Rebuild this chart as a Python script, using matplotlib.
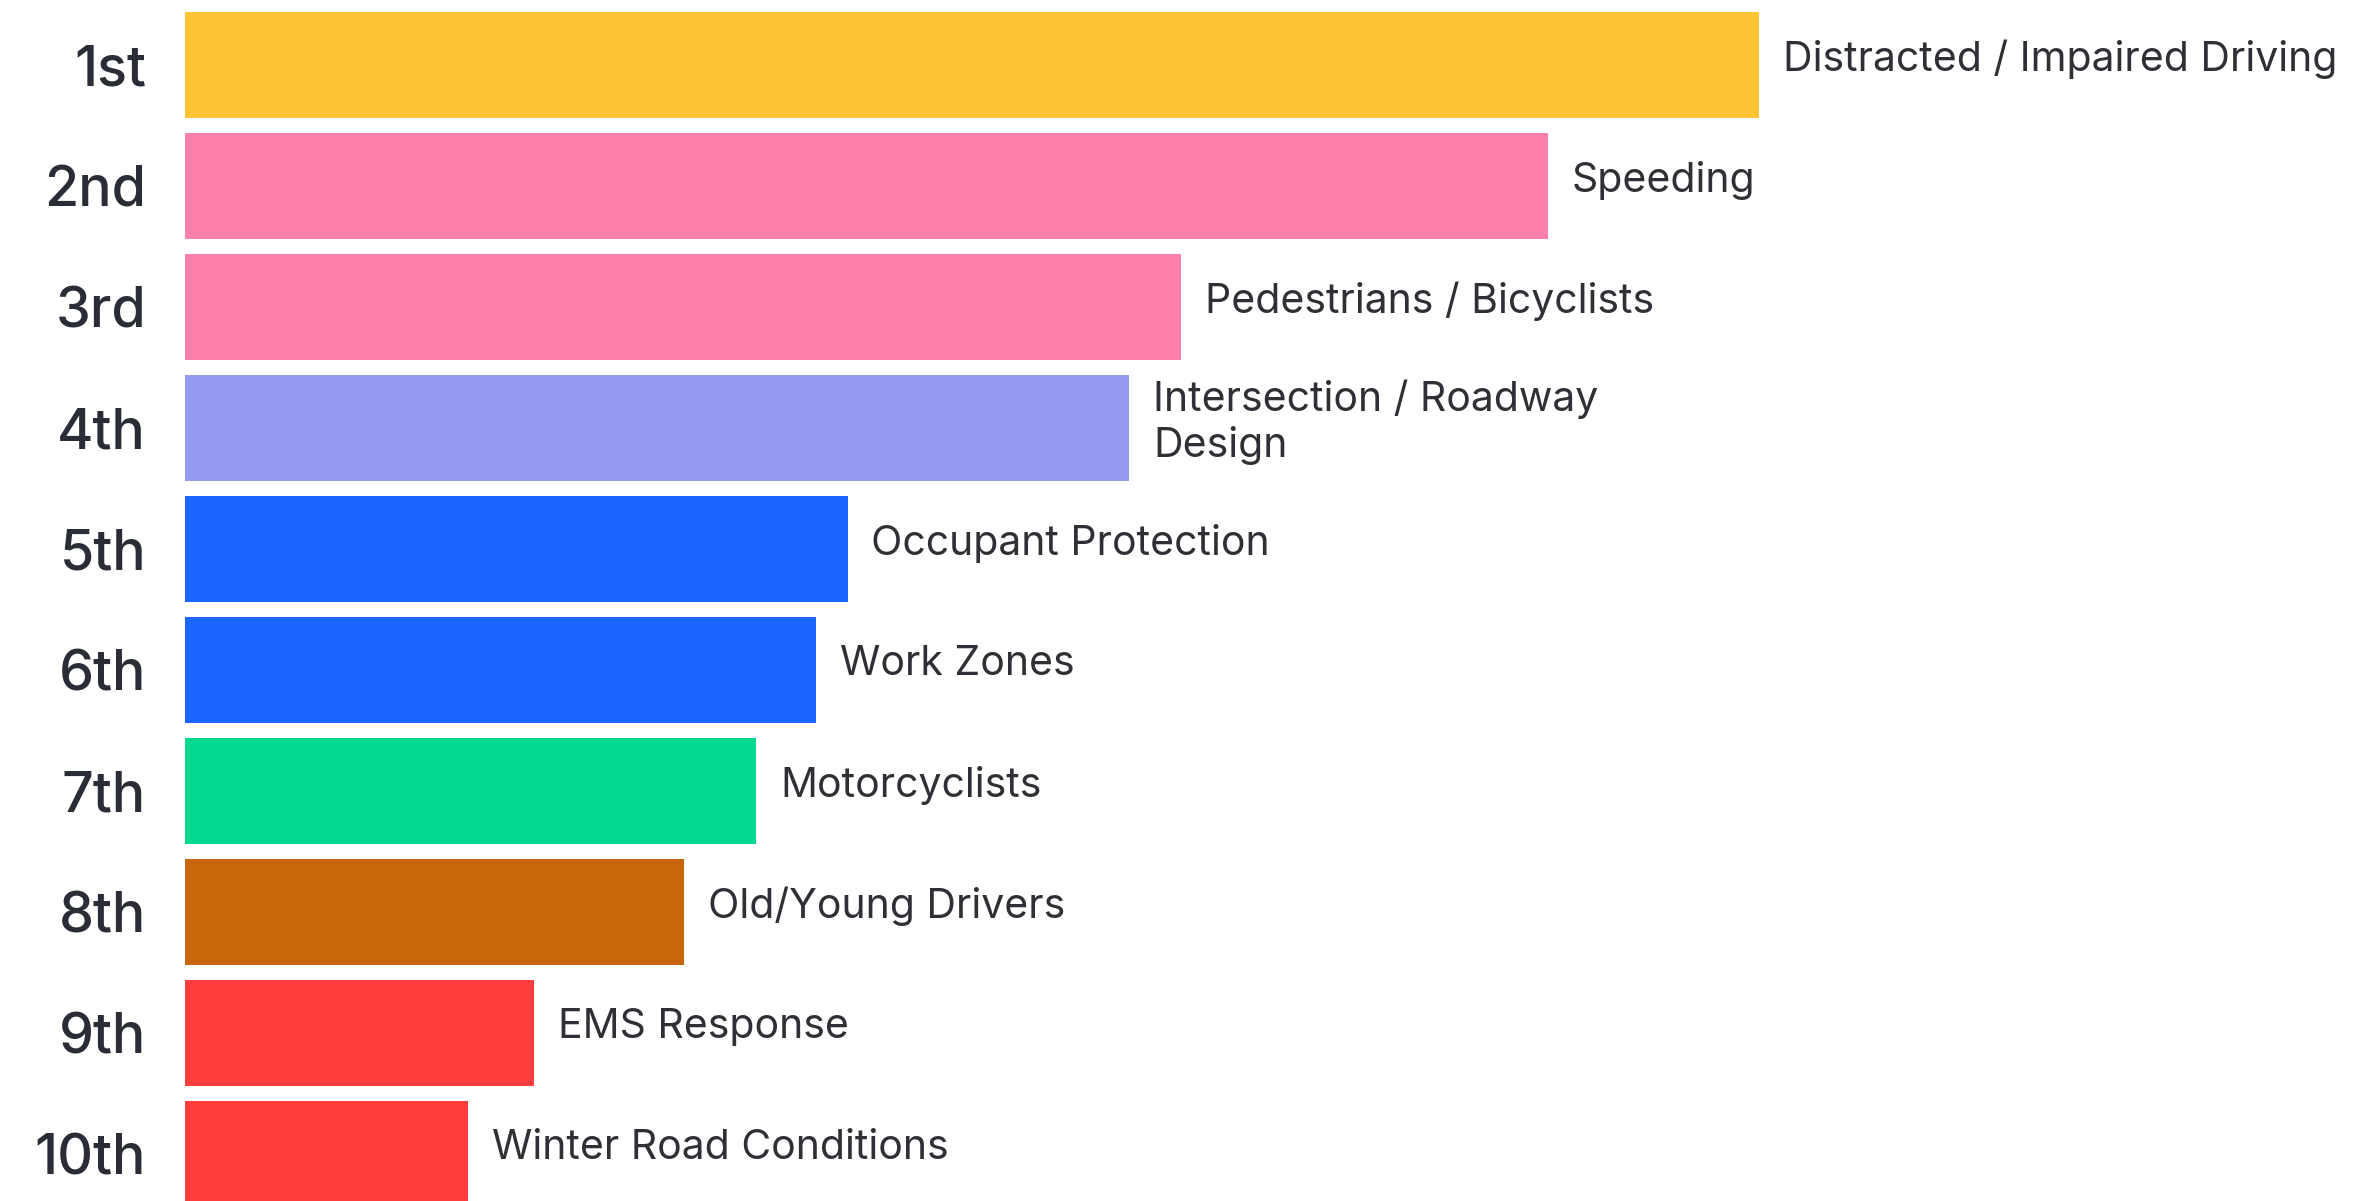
import matplotlib
matplotlib.use("Agg")
import matplotlib.pyplot as plt

# --- Data (relative bar lengths) ---
RANKS = ["1st", "2nd", "3rd", "4th", "5th", "6th", "7th", "8th", "9th", "10th"]
CATEGORIES = [
    "Distracted / Impaired Driving",
    "Speeding",
    "Pedestrians / Bicyclists",
    "Intersection / Roadway\nDesign",
    "Occupant Protection",
    "Work Zones",
    "Motorcyclists",
    "Old/Young Drivers",
    "EMS Response",
    "Winter Road Conditions",
]
SCORES = [100, 86.6, 63.3, 60.0, 42.1, 40.1, 36.3, 31.7, 22.2, 18.0]
COLORS = [
    "#FFC336", "#FF80A8", "#FF80A8", "#959AF2", "#1A66FF",
    "#1A66FF", "#03D890", "#C9650A", "#FF3D3D", "#FF3D3D",
]

W, H, DPI = 2357, 1201, 100
fig = plt.figure(figsize=(W / DPI, H / DPI), dpi=DPI)
ax = fig.add_axes([185 / W, 0, 1 - 185 / W, 1])

ypos = list(range(len(SCORES)))
ax.barh(ypos, SCORES, height=0.876, color=COLORS)

# pixel-calibrated limits: bar 1 centre 65px from top, 121px pitch
ax.set_xlim(0, 100 * (W - 185) / 1574)
ax.set_ylim((H - 65) / 121, -65 / 121)

for i, (v, lab) in enumerate(zip(SCORES, CATEGORIES)):
    ax.annotate(lab, (v, i), xytext=(17, 4), textcoords="offset points",
                va="center", ha="left", fontsize=29.5, family="Inter",
                color="#2f3036", linespacing=1.22)

ax.set_yticks(ypos, RANKS)
ax.tick_params(axis="y", length=0, pad=28)
for t in ax.get_yticklabels():
    t.set_fontsize(40)
    t.set_family("Inter")
    t.set_fontweight("medium")
    t.set_color("#2a2d36")
ax.set_xticks([])
for s in ax.spines.values():
    s.set_visible(False)

fig.savefig("out.png", dpi=DPI)
